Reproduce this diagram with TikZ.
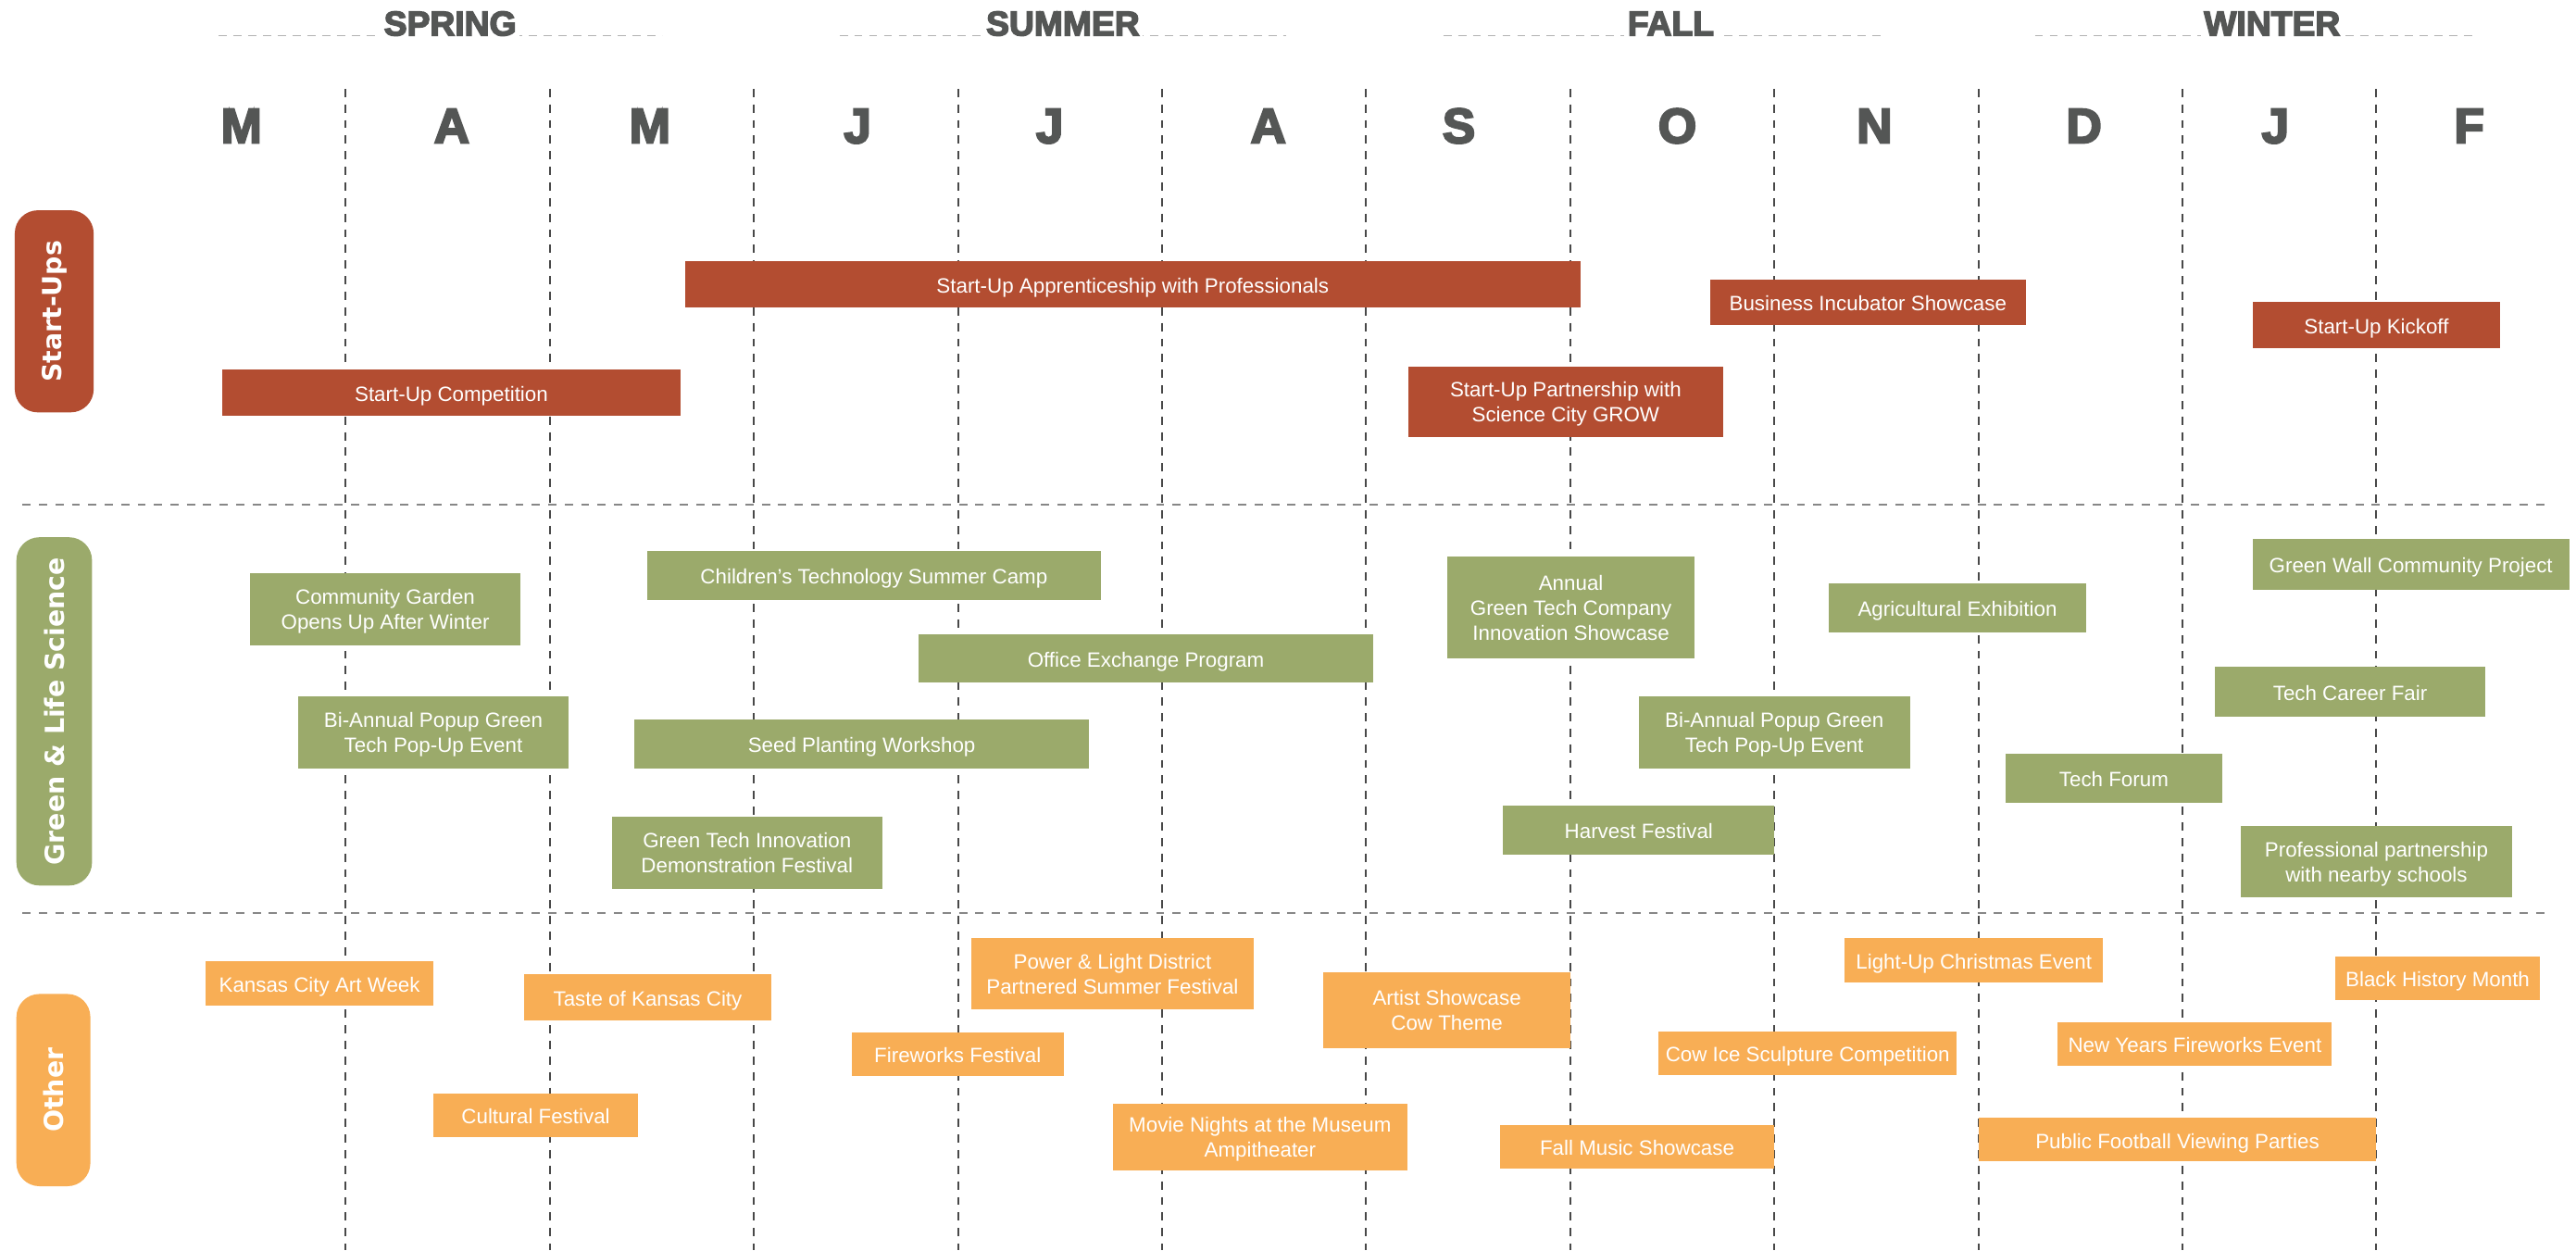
\documentclass[tikz,border=0pt]{standalone}
\usepackage{fontspec}
\setmainfont{Liberation Sans}
\newfontfamily\pillfont{DejaVu Sans}
\newfontfamily\headfont{Liberation Sans}[BoldFeatures={FakeBold=4}]
\usepackage{tikz}
\definecolor{startred}{RGB}{179,77,49}
\definecolor{lifegreen}{RGB}{155,170,107}
\definecolor{otherorange}{RGB}{248,174,85}
\definecolor{headgray}{RGB}{84,86,85}
\definecolor{gridgray}{RGB}{72,72,72}
\definecolor{rulegray}{RGB}{135,135,135}
\definecolor{seasongray}{RGB}{178,178,178}
\tikzset{
  monthlbl/.style ={font=\headfont\bfseries\fontsize{30}{30}\selectfont, text=headgray, anchor=base},
  seasonlbl/.style={font=\headfont\bfseries\fontsize{21}{21}\selectfont, text=headgray, fill=white,
                    inner sep=2pt, anchor=base},
  monthline/.style={gridgray, line width=1.1pt, dash pattern=on 5pt off 4.5pt},
  rowline/.style  ={rulegray, line width=0.9pt, dash pattern=on 5pt off 5pt},
  seasonline/.style={seasongray, line width=0.9pt, dash pattern=on 5pt off 4pt},
  catpill/.style  ={rectangle, rounded corners=14pt, rotate=90, inner sep=0pt, text=white,
                    font=\pillfont\bfseries\fontsize{16}{16}\selectfont},
  evsize/.style 2 args={minimum width=#1pt, minimum height=#2pt},
  event/.style    ={rectangle, inner sep=0pt, text=white, align=center,
                    font=\fontsize{12.6}{15.2}\selectfont,
                    execute at begin node={\rule[-2.6pt]{0pt}{15.6pt}}},
  evlines/.style  ={execute at begin node={\rule[-2.6pt]{0pt}{15.6pt}\hspace*{0pt}}, text depth=-2pt},
  evred/.style    ={event, fill=startred},
  evgreen/.style  ={event, fill=lifegreen},
  evorange/.style ={event, fill=otherorange},
}

\begin{document}
\begin{tikzpicture}[x=1pt, y=-1pt]
    \useasboundingbox (0,0) rectangle (1568,761);
    \draw[seasonline] (133,21.6) -- (403,21.6);
    \draw[seasonline] (511,21.6) -- (783,21.6);
    \draw[seasonline] (878.5,21.6) -- (1147.6,21.6);
    \draw[seasonline] (1238.6,21.6) -- (1508.4,21.6);
    \node[seasonlbl] (spring) at (274,21.6)  {SPRING};
    \node[seasonlbl] (summer) at (647,21.6)  {SUMMER};
    \node[seasonlbl] (fall)   at (1017,21.6) {FALL};
    \node[seasonlbl] (winter) at (1383,21.6) {WINTER};

    \node[monthlbl] (mar) at (147,87)    {M};
    \node[monthlbl] (apr) at (275,87)    {A};
    \node[monthlbl] (may) at (395.6,87)  {M};
    \node[monthlbl] (jun) at (522,87)    {J};
    \node[monthlbl] (jul) at (639,87)    {J};
    \node[monthlbl] (aug) at (772,87)    {A};
    \node[monthlbl] (sep) at (888,87)    {S};
    \node[monthlbl] (oct) at (1021,87)   {O};
    \node[monthlbl] (nov) at (1141,87)   {N};
    \node[monthlbl] (dec) at (1268.5,87) {D};
    \node[monthlbl] (jan) at (1385,87)   {J};
    \node[monthlbl] (feb) at (1503,87)   {F};

    \draw[rowline] (13.7,307) -- (1551.7,307);
    \draw[rowline] (13.7,555.6) -- (1551.7,555.6);
    \draw[monthline] (210.4,54) -- (210.4,761);
    \draw[monthline] (334.7,54) -- (334.7,761);
    \draw[monthline] (459,54) -- (459,761);
    \draw[monthline] (583.3,54) -- (583.3,761);
    \draw[monthline] (707.6,54) -- (707.6,761);
    \draw[monthline] (831.3,54) -- (831.3,761);
    \draw[monthline] (956,54) -- (956,761);
    \draw[monthline] (1079.7,54) -- (1079.7,761);
    \draw[monthline] (1204.4,54) -- (1204.4,761);
    \draw[monthline] (1328.5,54) -- (1328.5,761);
    \draw[monthline] (1446.3,54) -- (1446.3,761);

    \node[catpill, fill=startred,    evsize={123}{48}] (startups) at (33,189.5)  {Start-Ups};
    \node[catpill, fill=lifegreen,   evsize={212}{46}] (greenlife) at (33,433)   {Green \& Life Science};
    \node[catpill, fill=otherorange, evsize={117}{45}] (other)    at (32.5,663.5) {Other};

    \node[evred, evsize={545}{28}]   (apprentice) at (689.5,173)  {Start-Up Apprenticeship with Professionals};
    \node[evred, evsize={279.5}{28}] (competition) at (274.75,239) {Start-Up Competition};
    \node[evred, evsize={192}{28}]   (incubator)  at (1137,184)   {Business Incubator Showcase};
    \node[evred, evsize={151}{28}]   (kickoff)    at (1446.5,198) {Start-Up Kickoff};
    \node[evred, evlines, evsize={192}{43}] (grow) at (953,244.5) {Start-Up Partnership with\\Science City GROW};

    \node[evgreen, evlines, evsize={165}{44}]   (garden) at (234.5,371) {Community Garden\\Opens Up After Winter};
    \node[evgreen, evlines, evsize={164.5}{44}] (popupA) at (263.75,446) {Bi-Annual Popup Green\\Tech Pop-Up Event};
    \node[evgreen, evsize={276}{29.5}] (camp)     at (532,350.25)   {Children's Technology Summer Camp};
    \node[evgreen, evsize={277}{30}]   (seed)     at (524.5,453)    {Seed Planting Workshop};
    \node[evgreen, evlines, evsize={164.6}{44}] (demo) at (454.7,519) {Green Tech Innovation\\Demonstration Festival};
    \node[evgreen, evsize={277}{29.6}] (office)   at (697.5,400.8)  {Office Exchange Program};
    \node[evgreen, evlines, evsize={150.5}{61.6}] (annual) at (956.25,369.8) {Annual\\Green Tech Company\\Innovation Showcase};
    \node[evgreen, evsize={157}{30}]   (agri)     at (1191.5,370)   {Agricultural Exhibition};
    \node[evgreen, evsize={193}{31}]   (wall)     at (1467.5,343.5) {Green Wall Community Project};
    \node[evgreen, evsize={165}{30}]   (career)   at (1430.5,421)   {Tech Career Fair};
    \node[evgreen, evlines, evsize={165}{44}] (popupB) at (1080,446) {Bi-Annual Popup Green\\Tech Pop-Up Event};
    \node[evgreen, evsize={131.4}{29.5}] (forum)  at (1286.7,473.75) {Tech Forum};
    \node[evgreen, evsize={165}{29.6}] (harvest)  at (997.5,505.2)  {Harvest Festival};
    \node[evgreen, evlines, evsize={165}{43.2}] (schools) at (1446.5,524.6) {Professional partnership\\with nearby schools};

    \node[evorange, evsize={138.4}{26.7}] (artweek)   at (194.5,598.55)  {Kansas City Art Week};
    \node[evorange, evsize={150.5}{28.3}] (taste)     at (394.25,607.15) {Taste of Kansas City};
    \node[evorange, evsize={124.8}{26.7}] (cultural)  at (326.1,678.95)  {Cultural Festival};
    \node[evorange, evlines, evsize={171.7}{43.4}] (powerlight) at (677.15,592.8) {Power \& Light District\\Partnered Summer Festival};
    \node[evorange, evsize={129.3}{26.7}] (fireworks) at (582.95,641.75) {Fireworks Festival};
    \node[evorange, evlines, evsize={179.2}{40.6}] (movie) at (767,692.3) {Movie Nights at the Museum\\Ampitheater};
    \node[evorange, evlines, evsize={150.5}{46.2}] (artist) at (880.75,614.9) {Artist Showcase\\Cow Theme};
    \node[evorange, evsize={166.4}{26.5}] (fallmusic) at (996.5,697.85)  {Fall Music Showcase};
    \node[evorange, evsize={181.4}{26.7}] (icesculpt) at (1100.3,641.25) {Cow Ice Sculpture Competition};
    \node[evorange, evsize={157}{26.7}]   (christmas) at (1201.5,584.45) {Light-Up Christmas Event};
    \node[evorange, evsize={124.5}{26.5}] (blackhist) at (1483.75,595.25) {Black History Month};
    \node[evorange, evsize={166.8}{26.4}] (newyears)  at (1336,635.5)    {New Years Fireworks Event};
    \node[evorange, evsize={241.9}{26.5}] (football)  at (1325.35,693.75) {Public Football Viewing Parties};
\end{tikzpicture}
\end{document}
